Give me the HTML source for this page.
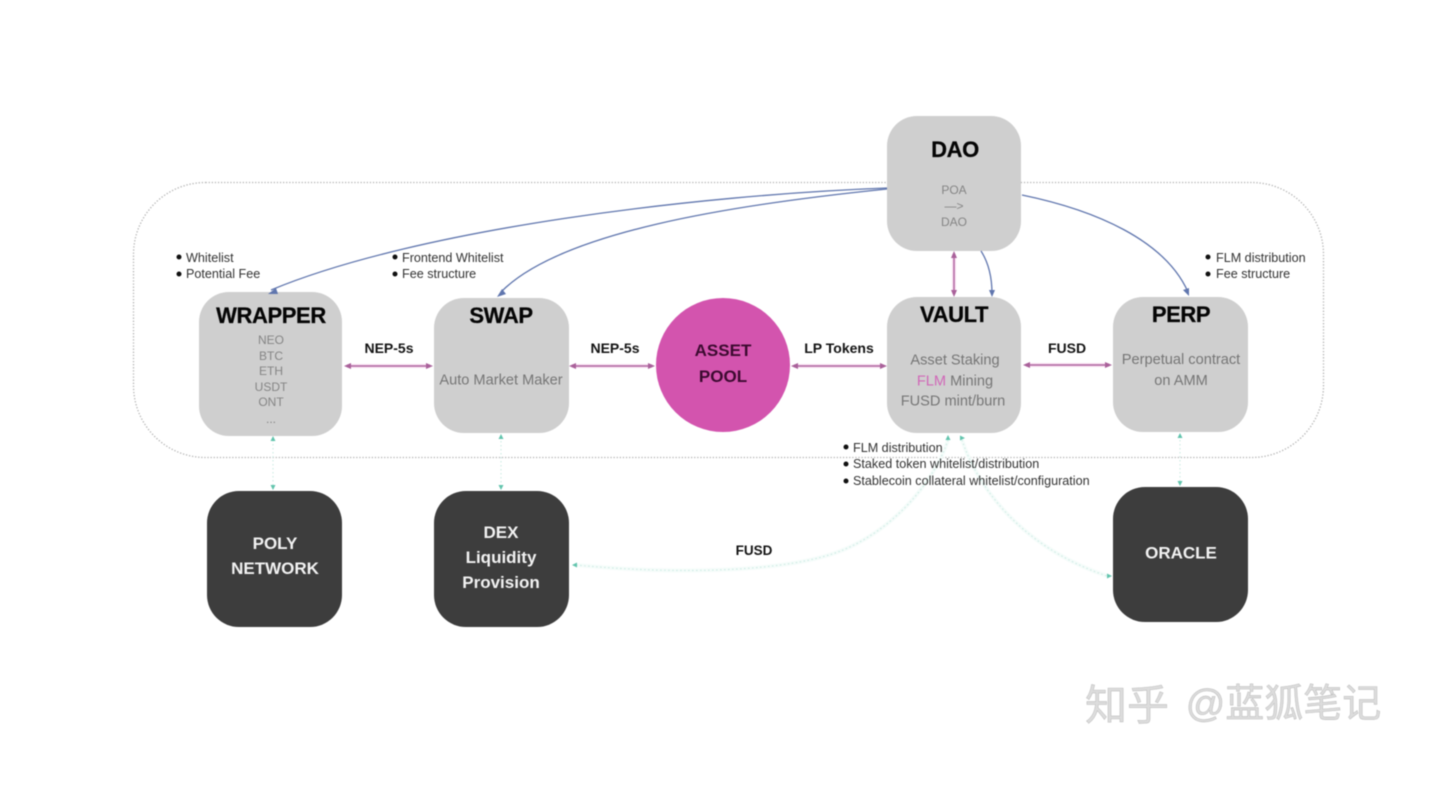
<!DOCTYPE html>
<html lang="en">
<head>
<meta charset="utf-8">
<style>
html,body{margin:0;padding:0;background:#fff;width:1434px;height:794px;overflow:hidden}
svg{display:block;filter:blur(.6px)}
text{font-family:"Liberation Sans","Noto Sans CJK SC",sans-serif;text-anchor:middle}
.t{font-size:22px;font-weight:bold;fill:#050505;letter-spacing:-.4px;stroke:#050505;stroke-width:.25}
.s{font-size:14.600px;fill:#767676}
.xs{font-size:12px;fill:#858585}
.l{font-size:14px;font-weight:bold;fill:#141414}
.b{font-size:12.600px;fill:#333;text-anchor:start}
.w{font-size:17px;font-weight:bold;fill:#f2f2f2}
.ph{fill:none;stroke:#f3cfe9;stroke-width:3.500}
.p{fill:none;stroke:#a9619a;stroke-width:1.200}
.bl{fill:none;stroke:#6076ae;stroke-width:1.300}
.g{fill:none;stroke:#cdebe4;stroke-width:1.100;stroke-dasharray:1.500 2.500}
.gh{fill:none;stroke:#f5fcfa;stroke-width:4}
</style>
</head>
<body>
<svg width="1434" height="794" viewBox="0 0 1434 794" xmlns="http://www.w3.org/2000/svg">
<rect width="1434" height="794" fill="#fff"/>
<rect x="133.500" y="182.500" width="1190" height="275" rx="72" fill="none" stroke="#b4b4b4" stroke-width="1.300" stroke-dasharray="1.300 1.800"/>

<!-- Nodes -->
<rect x="887" y="116" width="134" height="135" rx="30" fill="#cfcfcf"/>
<rect x="199" y="292" width="143" height="144" rx="30" fill="#cfcfcf"/>
<rect x="434" y="298" width="135" height="135" rx="30" fill="#cfcfcf"/>
<rect x="887" y="297" width="134" height="136" rx="30" fill="#cfcfcf"/>
<rect x="1113" y="297" width="135" height="135" rx="30" fill="#cfcfcf"/>
<circle cx="723" cy="365" r="67" fill="#d354ae"/>
<rect x="207" y="491" width="135" height="136" rx="32" fill="#3d3d3d"/>
<rect x="434" y="491" width="135" height="136" rx="32" fill="#3d3d3d"/>
<rect x="1113" y="487" width="135" height="135" rx="32" fill="#3d3d3d"/>

<!-- Blue connectors -->
<path class="bl" d="M887 188C700 195 420 228 271 290"/>
<path class="bl" d="M887 189C730 205 560 232 501 292"/>
<path class="bl" d="M1022 195C1095 210 1165 240 1188 292"/>
<path class="bl" d="M981 251C990 265 992 280 992 294"/>
<path d="M268 294l8-6 2 6zM497 297l5-8 4 5zM1189 296l-6-6 6-2zM992 297l-3-7h6z" fill="#6076ae"/>

<!-- Magenta connectors -->
<path class="ph" d="M347 366H430M572 366H652M794 366H883M1026 365H1109M954 254V294"/>
<path class="p" d="M347 366H430M572 366H652M794 366H883M1026 365H1109M954 254V294"/>
<path d="M344 366l7-3v6zM433 366l-7-3v6zM569 366l7-3v6zM655 366l-7-3v6zM791 366l7-3v6zM887 366l-7-3v6zM1023 365l7-3v6zM1112 365l-7-3v6zM954 251l-3 7h6zM954 297l-3-7h6z" fill="#a9619a"/>

<!-- Green connectors -->
<path class="gh" d="M948 440C935 480 896 528 843 550C790 572 680 575 576 565M962 440C975 480 1015 545 1107 576"/>
<path class="g" d="M273 440V488M501 437V488M1180 436V484M948 440C935 480 896 528 843 550C790 572 680 575 576 565M962 440C975 480 1015 545 1107 576"/>
<path d="M273 436l-2.500 5h5zM273 490l-2.500-5h5zM501 434l-2.500 5h5zM501 490l-2.500-5h5zM1180 433l-2.500 5h5zM1180 486l-2.500-5h5zM948 435l-2.500 5h5zM965 438l-5-2.500v5zM572 565l5-2.500v5zM1112 576l-5-2.500v5z" fill="#62c4ad"/>

<!-- Titles -->
<text class="t" x="955" y="157">DAO</text>
<text class="t" x="271" y="323">WRAPPER</text>
<text class="t" x="501" y="323">SWAP</text>
<text class="t" x="954" y="322">VAULT</text>
<text class="t" x="1181" y="322">PERP</text>

<!-- DAO content -->
<text class="xs" x="954" y="194">POA</text>
<text class="xs" x="954" y="210">—&gt;</text>
<text class="xs" x="954" y="226">DAO</text>

<!-- WRAPPER content -->
<text class="xs" x="271" y="344">NEO</text>
<text class="xs" x="271" y="360">BTC</text>
<text class="xs" x="271" y="375">ETH</text>
<text class="xs" x="271" y="391">USDT</text>
<text class="xs" x="271" y="406">ONT</text>
<text class="xs" x="271" y="423">...</text>

<text class="s" x="501" y="384.500">Auto Market Maker</text>

<text class="s" x="955" y="364.500">Asset Staking</text>
<text class="s" x="955" y="385.500"><tspan fill="#d068b8">FLM</tspan> Mining</text>
<text class="s" x="953" y="405.500">FUSD mint/burn</text>

<text class="s" x="1181" y="364">Perpetual contract</text>
<text class="s" x="1181" y="385">on AMM</text>

<!-- Asset pool -->
<text x="723" y="356" style="font-size:17px;font-weight:bold;fill:#3c0a30">ASSET</text>
<text x="723" y="382" style="font-size:17px;font-weight:bold;fill:#3c0a30">POOL</text>

<!-- Connector labels -->
<text class="l" x="389" y="353">NEP-5s</text>
<text class="l" x="615" y="353">NEP-5s</text>
<text class="l" x="839" y="353">LP Tokens</text>
<text class="l" x="1067" y="353">FUSD</text>
<text class="l" x="754" y="555" style="font-size:13.500px">FUSD</text>

<!-- Bullet notes -->
<g fill="#111">
<circle cx="179" cy="257" r="2.500"/><circle cx="179" cy="274" r="2.500"/>
<circle cx="395" cy="257" r="2.500"/><circle cx="395" cy="274" r="2.500"/>
<circle cx="1208" cy="257" r="2.500"/><circle cx="1208" cy="274" r="2.500"/>
<circle cx="846" cy="447" r="2.500"/><circle cx="846" cy="464" r="2.500"/><circle cx="846" cy="481" r="2.500"/>
</g>
<text class="b" x="186" y="262">Whitelist</text>
<text class="b" x="186" y="278">Potential Fee</text>
<text class="b" x="402" y="262">Frontend Whitelist</text>
<text class="b" x="402" y="278">Fee structure</text>
<text class="b" x="1216" y="262">FLM distribution</text>
<text class="b" x="1216" y="278">Fee structure</text>
<text class="b" x="853" y="452">FLM distribution</text>
<text class="b" x="853" y="468">Staked token whitelist/distribution</text>
<text class="b" x="853" y="485">Stablecoin collateral whitelist/configuration</text>

<!-- Dark node labels -->
<text class="w" x="275" y="549">POLY</text>
<text class="w" x="275" y="574">NETWORK</text>
<text class="w" x="501" y="538">DEX</text>
<text class="w" x="501" y="563">Liquidity</text>
<text class="w" x="501" y="588">Provision</text>
<text class="w" x="1181" y="558.500">ORACLE</text>

<!-- Watermark -->
<text x="1127" y="720" style="font-size:42px;fill:#dcdcdc;stroke:#b4b4b4;stroke-width:.4">知乎</text>
<text x="1283.500" y="717" style="font-size:39px;fill:#dcdcdc;stroke:#b4b4b4;stroke-width:.4">@蓝狐笔记</text>
</svg>
</body>
</html>
